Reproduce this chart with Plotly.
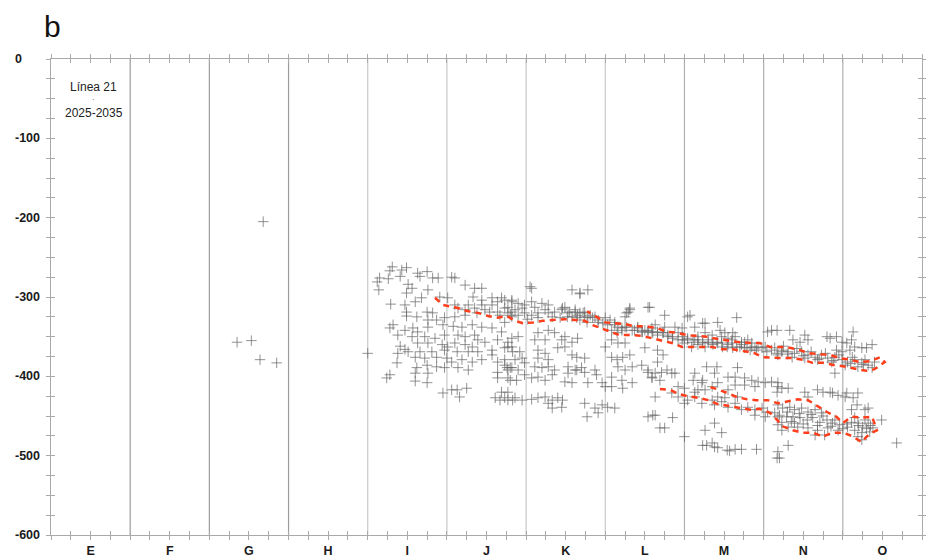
import plotly.graph_objects as go

# ---------------- data ----------------
categories = ["E", "F", "G", "H", "I", "J", "K", "L", "M", "N", "O"]
y_tick_values = [0, -100, -200, -300, -400, -500, -600]
y_tick_labels = ["0", "-100", "-200", "-300", "-400", "-500", "-600"]
panel_letter = "b"
legend_title = "Línea 21"
legend_period = "2025-2035"

pts_isolated = [(2.68, -205), (2.35, -357), (2.53, -355), (2.64, -379), (2.85, -383), (4.00, -371)]

pts_I_J = [
    (4.31, -262), (4.28, -267), (4.43, -266), (4.49, -263), (4.15, -276), (4.12, -281), (4.26, -277),
    (4.41, -274), (4.63, -270), (4.75, -268), (4.66, -274), (4.82, -276), (4.89, -276), (5.06, -275),
    (5.10, -276), (5.23, -285), (4.14, -291), (4.51, -284), (4.56, -289), (4.49, -295), (4.76, -291),
    (5.35, -289), (5.44, -289), (4.29, -309), (4.47, -310), (4.60, -306), (4.68, -301), (4.91, -300),
    (5.01, -301), (4.49, -319), (4.49, -324), (4.62, -325), (4.75, -319), (4.82, -320), (4.76, -329),
    (4.87, -329), (4.97, -326), (5.10, -325), (5.23, -323), (4.32, -335), (4.28, -339), (4.47, -342),
    (4.57, -339), (4.63, -344), (4.76, -338), (4.95, -335), (5.08, -337), (5.19, -338), (5.32, -335),
    (5.44, -338), (5.57, -339), (5.69, -344), (4.38, -348), (4.56, -350), (4.72, -350), (4.85, -352),
    (4.97, -348), (5.14, -348), (5.23, -350), (5.35, -348), (5.39, -354), (5.48, -357), (5.64, -354),
    (5.77, -357), (4.41, -362), (4.47, -366), (4.63, -358), (4.76, -358), (4.94, -360), (5.01, -363),
    (5.10, -358), (5.23, -360), (5.32, -363), (4.38, -371), (4.51, -369), (4.66, -369), (4.81, -369),
    (4.97, -367), (5.13, -369), (5.27, -369), (5.39, -369), (5.57, -367), (5.73, -364), (5.82, -363),
    (4.37, -383), (4.60, -376), (4.72, -377), (4.87, -376), (5.00, -377), (5.06, -382), (5.19, -379),
    (5.32, -382), (5.44, -379), (5.57, -373), (5.64, -382), (5.73, -386), (5.82, -389), (4.62, -389),
    (4.75, -386), (4.87, -388), (4.97, -389), (5.14, -389), (5.27, -392), (5.64, -395), (5.77, -392),
    (4.60, -396), (4.76, -396), (4.24, -402), (4.28, -398), (4.60, -406), (4.75, -408), (5.64, -402),
    (5.80, -405), (4.95, -421), (5.06, -417), (5.13, -417), (5.25, -415), (5.16, -426), (5.61, -427),
    (5.67, -430), (5.77, -430), (5.83, -430), (5.69, -420), (5.77, -420),
    (5.27, -310), (5.35, -314), (5.44, -310), (5.48, -316), (5.57, -310), (5.64, -306), (5.69, -301),
    (5.73, -304), (5.82, -306), (5.73, -314), (5.64, -319), (5.77, -320), (5.82, -325), (5.67, -323),
    (5.54, -319), (5.38, -320), (5.23, -316), (5.14, -314), (5.10, -310), (5.33, -300), (5.44, -304),
    (5.57, -301),
]

pts_K_L = [
    (5.82, -304), (5.90, -308), (5.77, -313), (5.86, -316), (5.98, -310), (6.07, -306), (6.11, -313),
    (6.20, -308), (6.24, -316), (6.28, -310), (6.36, -319), (6.45, -316), (6.49, -313), (6.53, -320),
    (6.62, -319), (6.65, -323), (6.72, -320), (6.74, -325), (6.78, -326), (5.98, -320), (6.07, -323),
    (6.15, -320), (5.90, -323), (5.80, -323), (6.33, -325), (6.58, -325), (6.68, -329), (6.07, -289),
    (6.05, -287), (6.58, -291), (6.68, -296), (6.78, -291), (6.43, -326), (6.15, -326), (6.02, -328),
    (5.73, -332), (6.28, -320), (5.82, -319), (5.95, -314), (7.00, -326), (7.03, -335), (7.12, -332),
    (7.16, -338), (7.21, -342), (7.25, -338), (7.29, -319), (7.31, -314), (7.37, -342), (7.41, -339),
    (7.46, -344), (7.50, -342), (7.54, -344), (7.59, -339), (7.60, -345), (7.54, -313), (7.08, -342),
    (7.15, -345), (7.25, -325), (6.87, -325), (6.91, -332),
    (6.46, -314), (6.55, -319), (6.62, -316), (6.68, -320), (6.74, -319), (6.81, -323), (6.84, -326),
    (6.91, -329), (6.52, -325), (6.64, -326), (6.77, -332), (6.97, -333), (7.06, -329), (7.12, -335),
    (7.21, -339), (7.27, -338), (7.34, -342), (7.41, -338), (7.47, -344), (7.54, -342), (7.27, -320),
    (7.31, -316), (7.56, -313), (6.68, -295),
    (5.82, -352), (5.90, -350), (5.77, -363), (5.83, -369), (5.92, -369), (5.73, -379), (5.86, -379),
    (5.95, -377), (5.98, -383), (5.76, -389), (5.80, -389), (5.90, -392), (5.77, -402), (5.88, -405),
    (6.11, -354), (6.15, -345), (6.24, -354), (6.28, -342), (6.36, -345), (6.45, -354), (6.49, -350),
    (6.58, -357), (6.65, -352), (6.15, -367), (6.24, -371), (6.40, -364), (6.49, -363), (6.58, -373),
    (6.64, -376), (6.74, -377), (6.15, -377), (6.28, -379), (6.11, -388), (6.20, -389), (6.28, -388),
    (6.36, -392), (6.53, -388), (6.64, -392), (6.70, -389), (5.98, -398), (6.07, -402), (6.15, -401),
    (6.24, -405), (6.33, -398), (6.53, -396), (6.62, -392), (6.74, -395), (6.87, -392), (6.89, -398),
    (6.49, -407), (6.58, -408), (6.78, -408), (6.96, -408), (7.00, -413), (5.73, -427), (5.86, -427),
    (5.95, -430), (6.07, -429), (6.15, -427), (6.24, -426), (6.33, -430), (6.40, -427), (6.46, -430),
    (6.28, -434), (6.33, -440), (6.45, -439), (6.74, -434), (6.87, -440), (6.96, -436), (6.91, -446),
    (6.77, -451), (7.03, -439), (7.12, -440), (7.54, -451), (7.60, -449), (7.08, -376), (7.15, -379),
    (7.22, -376), (7.31, -373), (7.16, -388), (7.25, -392), (7.34, -388), (7.46, -386), (7.54, -392),
    (7.59, -401), (7.08, -401), (7.21, -405), (7.34, -408), (7.22, -415), (7.08, -413), (7.50, -364),
    (7.08, -354), (7.16, -358), (7.00, -363), (7.25, -358),
]

pts_L_M = [
    (7.59, -344), (7.66, -344), (7.73, -345), (7.79, -348), (7.85, -350), (7.92, -345), (7.97, -354),
    (8.04, -352), (8.13, -354), (8.17, -350), (8.23, -357), (8.30, -354), (8.35, -358), (8.41, -357),
    (8.47, -358), (8.54, -363), (8.60, -358), (8.66, -363), (8.72, -360), (8.79, -364), (8.85, -363),
    (8.91, -367), (8.98, -364), (9.04, -369), (9.10, -367), (9.17, -371), (9.23, -369), (7.75, -323),
    (7.88, -338), (8.04, -325), (8.13, -338), (8.26, -333), (8.42, -332), (8.51, -345), (8.64, -350),
    (8.76, -357), (8.66, -326), (9.05, -344), (9.10, -342), (9.17, -342), (7.63, -335), (7.75, -338),
    (8.00, -358), (8.09, -363), (8.17, -360), (8.26, -363), (8.35, -348), (8.47, -350), (8.60, -354),
    (8.72, -357), (8.85, -358), (8.93, -363), (9.02, -363), (8.55, -352), (8.80, -354), (7.97, -339),
    (8.26, -345),
    (7.66, -348), (7.73, -345), (7.79, -350), (7.85, -352), (7.92, -354), (7.98, -350), (8.04, -354),
    (8.11, -357), (8.17, -354), (8.23, -358), (8.30, -357), (8.36, -360), (8.42, -358), (8.48, -363),
    (8.55, -360), (8.61, -364), (8.70, -363), (8.76, -364), (8.83, -367), (8.89, -364), (8.07, -323),
    (8.23, -333), (8.45, -342), (8.61, -345),
    (7.66, -367), (7.73, -373), (7.66, -382), (7.54, -395), (7.63, -396), (7.71, -395), (7.78, -392),
    (7.84, -396), (7.88, -396), (7.59, -402), (7.69, -405), (7.63, -426), (7.92, -413), (8.00, -415),
    (8.13, -396), (8.11, -405), (8.23, -405), (8.28, -388), (8.38, -396), (8.41, -388), (8.55, -401),
    (8.64, -401), (8.67, -389), (8.76, -402), (8.85, -405), (8.93, -407), (9.02, -408), (9.10, -407),
    (9.18, -413), (8.76, -411), (8.89, -413), (8.42, -408), (8.55, -417), (8.64, -411), (8.35, -413),
    (8.26, -417), (8.13, -420), (8.22, -408),
    (8.04, -430), (8.13, -426), (8.22, -434), (8.35, -430), (8.38, -436), (8.47, -432), (8.55, -439),
    (8.64, -434), (8.72, -442), (8.80, -439), (8.89, -442), (8.98, -440), (9.05, -445), (9.14, -446),
    (9.18, -451), (9.23, -458), (9.02, -451), (8.89, -449), (8.67, -426), (8.51, -427), (8.42, -426),
    (8.17, -417), (8.00, -434), (7.92, -426), (7.84, -421),
    (7.63, -449), (7.85, -452), (7.69, -465), (7.75, -465), (8.00, -476), (8.26, -468), (8.38, -459),
    (8.47, -471), (8.23, -487), (8.28, -487), (8.35, -484), (8.38, -489), (8.42, -490), (8.54, -493),
    (8.57, -494), (8.64, -492), (8.72, -492), (8.91, -492), (9.17, -503),
]

pts_N_O = [
    (9.14, -364), (9.23, -367), (9.31, -369), (9.39, -371), (9.48, -369), (9.56, -373), (9.65, -376),
    (9.73, -373), (9.81, -377), (9.90, -376), (9.99, -379), (10.06, -382), (10.15, -379), (10.24, -383),
    (10.32, -386), (10.40, -382), (10.37, -389), (10.19, -388), (10.03, -386), (9.86, -382), (9.68, -379),
    (9.52, -377), (9.36, -376), (9.18, -373), (9.33, -342), (9.37, -354), (9.46, -357), (9.52, -348),
    (9.56, -354), (9.80, -350), (9.84, -352), (9.92, -350), (9.99, -357), (10.05, -358), (10.11, -354),
    (10.15, -363), (10.24, -364), (10.30, -364), (10.37, -360), (10.13, -344), (10.09, -367),
    (9.92, -367), (9.99, -369), (9.90, -396),
    (9.25, -362), (9.42, -365), (9.60, -369), (9.78, -371), (9.95, -373), (10.12, -376), (10.28, -379),
    (9.30, -372), (9.50, -374), (9.70, -378), (9.88, -380), (10.10, -384), (10.26, -385),
    (9.18, -408), (9.23, -415), (9.17, -420), (9.31, -415), (9.52, -420), (9.56, -426), (9.68, -417),
    (9.75, -420), (9.84, -420), (9.87, -421), (9.94, -424), (10.03, -426), (10.05, -421), (10.13, -427),
    (10.19, -421), (10.18, -436), (10.11, -442), (10.28, -442), (10.32, -440), (10.49, -455),
    (9.18, -436), (9.24, -440), (9.33, -439), (9.39, -442), (9.48, -440), (9.56, -445), (9.65, -442),
    (9.73, -446), (9.20, -449), (9.29, -451), (9.37, -451), (9.46, -452), (9.55, -455), (9.62, -452),
    (9.71, -458), (9.80, -455), (9.87, -459), (9.96, -461), (9.18, -461), (9.31, -464), (9.43, -464),
    (9.56, -465), (9.68, -468), (9.81, -465), (9.94, -468), (10.06, -464), (10.11, -458), (10.19, -459),
    (10.25, -464), (10.32, -459), (10.38, -465), (10.15, -468), (10.24, -471), (10.34, -470),
    (10.19, -476), (10.24, -480), (9.65, -474), (9.77, -474), (9.39, -459), (9.23, -468), (9.31, -487),
    (9.18, -495), (9.20, -503), (10.68, -484),
    (9.30, -445), (9.45, -447), (9.60, -448), (9.75, -450), (9.90, -455), (10.05, -460), (10.20, -462),
    (10.30, -466), (9.35, -457), (9.50, -460), (9.68, -462), (9.85, -463), (10.00, -466), (10.15, -452),
    (10.28, -455), (10.35, -462),
]

# red dashed envelopes (each band: lower edge, then upper edge)
upper_lower_edge = [
    (4.85, -301), (4.95, -310), (5.10, -313), (5.27, -318), (5.39, -320), (5.52, -324), (5.64, -326),
    (5.76, -324), (5.86, -330), (5.96, -333), (6.09, -332), (6.21, -330), (6.34, -329), (6.49, -328),
    (6.62, -329), (6.74, -330), (6.83, -335), (6.96, -340), (7.08, -344), (7.18, -348), (7.34, -348),
    (7.46, -349), (7.59, -352), (7.71, -355), (7.84, -358), (7.97, -363), (8.09, -363), (8.22, -363),
    (8.35, -363), (8.48, -366), (8.61, -366), (8.74, -368), (8.89, -371), (8.99, -376), (9.12, -377),
    (9.24, -377), (9.37, -377), (9.49, -379), (9.62, -383), (9.75, -383), (9.90, -386), (10.05, -388),
    (10.18, -391), (10.30, -393), (10.40, -391), (10.49, -384),
]
upper_upper_edge = [
    (6.77, -318), (6.89, -325), (7.00, -332), (7.12, -333), (7.25, -334), (7.37, -337), (7.50, -337),
    (7.65, -339), (7.78, -344), (7.90, -345), (8.03, -348), (8.16, -349), (8.28, -350), (8.42, -353),
    (8.55, -355), (8.70, -357), (8.83, -358), (8.95, -358), (9.08, -363), (9.20, -363), (9.33, -364),
    (9.46, -367), (9.58, -371), (9.71, -372), (9.84, -373), (9.96, -377), (10.09, -379), (10.21, -382),
    (10.34, -381), (10.47, -376), (10.53, -382),
]
lower_lower_edge = [
    (7.69, -416), (7.82, -417), (7.92, -422), (8.04, -425), (8.17, -427), (8.30, -430), (8.42, -435),
    (8.55, -437), (8.70, -440), (8.83, -442), (8.95, -441), (9.08, -446), (9.17, -455), (9.24, -463),
    (9.37, -468), (9.49, -471), (9.62, -471), (9.75, -476), (9.87, -471), (10.00, -471), (10.11, -475),
    (10.24, -483), (10.30, -476), (10.37, -471), (10.43, -468),
]
lower_upper_edge = [
    (8.30, -413), (8.41, -416), (8.54, -421), (8.66, -426), (8.79, -429), (8.91, -430), (9.05, -430),
    (9.18, -434), (9.31, -431), (9.43, -429), (9.56, -430), (9.68, -437), (9.80, -445), (9.92, -451),
    (10.00, -459), (10.11, -451), (10.24, -452), (10.37, -451), (10.40, -459),
]

# ---------------- figure ----------------
all_pts = pts_isolated + pts_I_J + pts_K_L + pts_L_M + pts_N_O
px_ = [p[0] for p in all_pts]
py_ = [p[1] for p in all_pts]

fig = go.Figure()
mk_col = "rgba(100,100,100,0.7)"
fig.add_trace(go.Scatter(
    x=px_, y=py_, mode="markers",
    marker=dict(symbol="cross-thin", size=7.5, color=mk_col, line=dict(width=1, color=mk_col)),
    hoverinfo="skip", showlegend=False))

red = "rgb(255,62,28)"
for low, up in [(upper_lower_edge, upper_upper_edge), (lower_lower_edge, lower_upper_edge)]:
    path = low + up[::-1]
    fig.add_trace(go.Scatter(
        x=[p[0] for p in path], y=[p[1] for p in path], mode="lines",
        line=dict(color=red, width=2.5, dash="6px,5px"),
        hoverinfo="skip", showlegend=False))

# dummy trace for the secondary (inside-tick) axes
fig.add_trace(go.Scatter(x=[None], y=[None], xaxis="x2", yaxis="y2", showlegend=False))

n = len(categories)
quarter_vals = [i / 4 for i in range(0, 4 * n + 1)]
quarter_text = []
for v in quarter_vals:
    if abs(v - int(v) - 0.5) < 1e-9:
        quarter_text.append("<b>" + categories[int(v)] + "</b>")
    else:
        quarter_text.append("")
y_minor = [-25 * i for i in range(0, 25)]

axis_col = "#aaaaaa"
label_font = dict(family="Liberation Sans, Arial", size=12.5, color="#1a1a1a")
common_x = dict(range=[0, n], showgrid=False, zeroline=False, showline=True, linecolor=axis_col,
                linewidth=1, mirror="ticks", tickcolor=axis_col, ticklen=4, tickwidth=1,
                tickmode="array", tickvals=quarter_vals, automargin=False)
common_y = dict(range=[-600, 0], showgrid=False, zeroline=False, showline=True, linecolor=axis_col,
                linewidth=1, mirror="ticks", tickcolor=axis_col, ticklen=4, tickwidth=1,
                tickmode="array", tickvals=y_minor, showticklabels=False, automargin=False)

fig.update_layout(
    width=926, height=559,
    margin=dict(l=51, r=4, t=59, b=24, autoexpand=False),
    paper_bgcolor="white", plot_bgcolor="white",
    xaxis=dict(**common_x, ticks="outside", ticktext=quarter_text, tickfont=label_font),
    xaxis2=dict(**common_x, ticks="inside", overlaying="x", anchor="y", showticklabels=False),
    yaxis=dict(**common_y, ticks="outside"),
    yaxis2=dict(**common_y, ticks="inside", overlaying="y", anchor="x"),
)

boundary_colors = ["#9c9c9c", "#9c9c9c", "#9c9c9c", "#c8c8c8", "#c8c8c8", "#c8c8c8", "#c8c8c8",
                   "#b0b0b0", "#b0b0b0", "#b0b0b0"]
for i in range(1, n):
    fig.add_vline(x=i, line=dict(color=boundary_colors[i - 1], width=1.2), layer="below")

for v, t in zip(y_tick_values, y_tick_labels):
    fig.add_annotation(x=-0.0436, xref="paper", y=v, yref="y", text="<b>" + t + "</b>",
                       showarrow=False, xanchor="left", yanchor="middle", font=label_font)

fig.add_annotation(x=-0.01, xref="paper", y=1.069, yref="paper", text=panel_letter, showarrow=False,
                   xanchor="left", yanchor="middle",
                   font=dict(family="Liberation Sans, Arial", size=30, color="#111"))
fig.add_annotation(x=0.54, xref="x", y=-35, yref="y", text=legend_title, showarrow=False,
                   xanchor="center", yanchor="middle",
                   font=dict(family="Liberation Sans, Arial", size=12, color="#222"))
fig.add_annotation(x=0.54, xref="x", y=-51, yref="y", text="·", showarrow=False,
                   xanchor="center", yanchor="middle",
                   font=dict(family="Liberation Sans, Arial", size=8, color="#444"))
fig.add_annotation(x=0.54, xref="x", y=-68, yref="y", text=legend_period, showarrow=False,
                   xanchor="center", yanchor="middle",
                   font=dict(family="Liberation Sans, Arial", size=12, color="#222"))

fig.write_html("out.html", config={"displayModeBar": False},
               post_script="document.body.style.margin='0px';")
